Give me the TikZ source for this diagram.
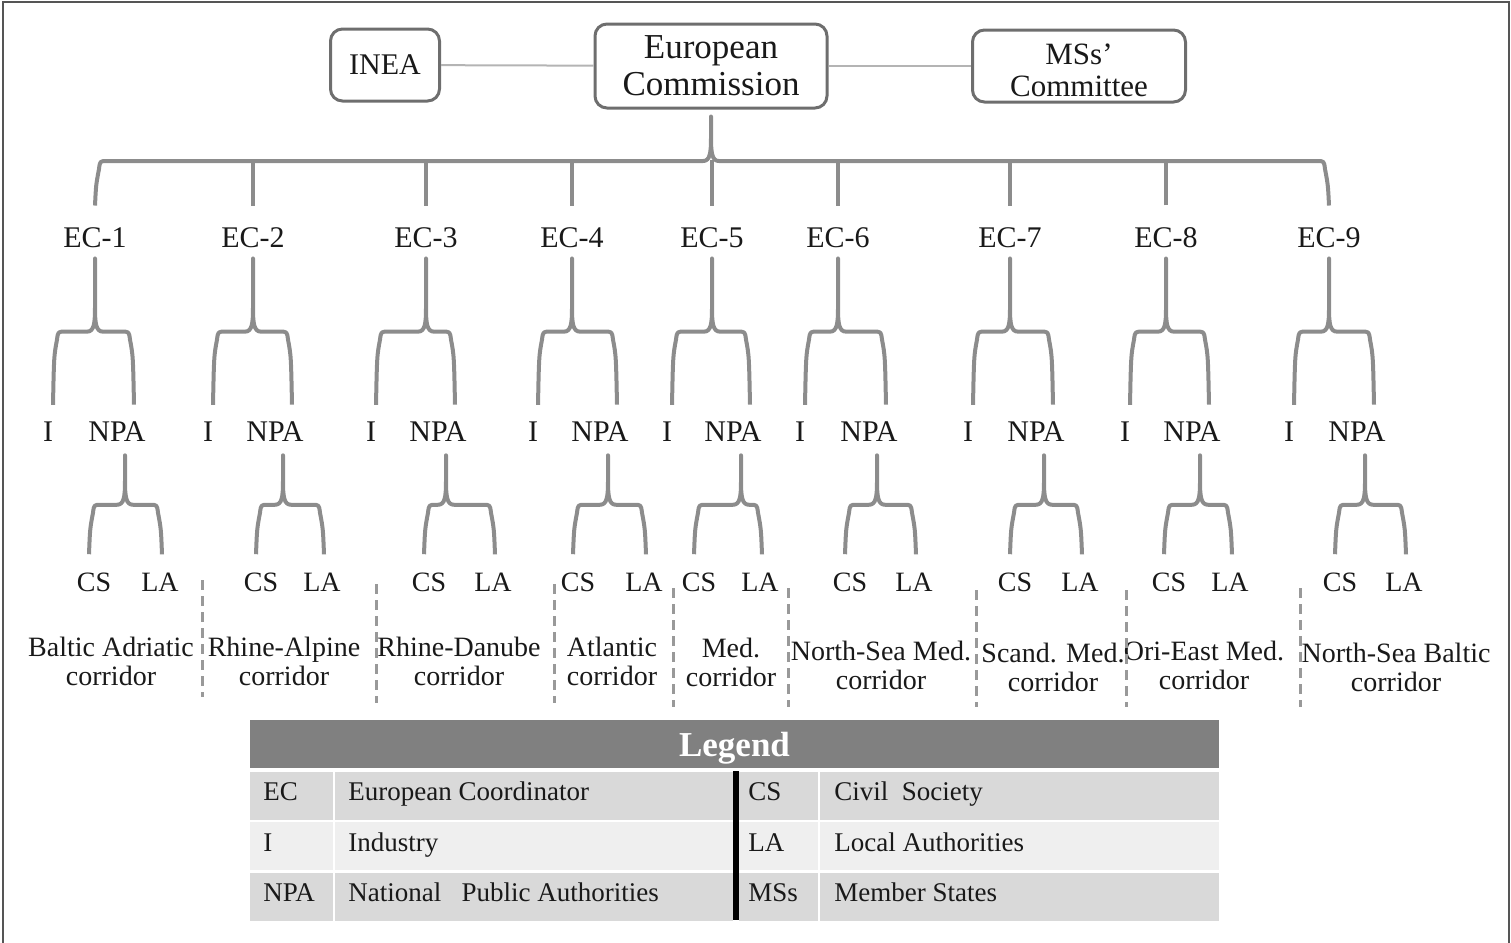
\documentclass[tikz,border=0pt]{standalone}
\usepackage{fontspec}
\setmainfont{Liberation Serif}
\usepackage{tikz}
\usetikzlibrary{calc}
\definecolor{forkgray}{HTML}{8C8C8C}
\definecolor{boxgray}{HTML}{6E6E6E}
\definecolor{linkgray}{HTML}{B4B4B4}
\definecolor{sepgray}{HTML}{999999}
\definecolor{headgray}{HTML}{808080}
\definecolor{rowdark}{HTML}{D9D9D9}
\definecolor{rowlight}{HTML}{EFEFEF}
\definecolor{framegray}{HTML}{555555}

\newcommand\forkbrace[3]{%
  \draw[fork] let \p1=(#1), \p2=(#2), \p3=(#3), \p4=($(\p1)!0.5!(\p2)$) in
    (\x1,\y1) .. controls (\x1+0.5pt,\y4-12pt) .. (\x1+2pt,\y4-4pt)
    .. controls (\x1+2.5pt,\y4) .. (\x1+6pt,\y4)
    -- (\x2-4pt,\y4) .. controls (\x2-0.5pt,\y4) and (\x2,\y4+4pt) .. (\x2,\y4+12pt) -- (\x2,\y2)
    -- (\x2,\y4+12pt) .. controls (\x2,\y4+4pt) and (\x2+0.5pt,\y4) .. (\x2+4pt,\y4)
    -- (\x3-6pt,\y4) .. controls (\x3-2.5pt,\y4) .. (\x3-2pt,\y4-4pt)
    .. controls (\x3-0.5pt,\y4-12pt) .. (\x3,\y3);}

\begin{document}
\begin{tikzpicture}[x=0.5pt,y=-0.5pt]
    \tikzstyle{every node}=[text=black!90]
    \tikzstyle{fork}=[forkgray, line width=2pt, line join=round]
    \tikzstyle{topbox}=[draw=boxgray, line width=1.5pt, rounded corners=6pt, align=center, inner sep=0pt]
    \tikzstyle{link}=[linkgray, line width=1pt]
    \tikzstyle{lab}=[inner sep=0pt, font=\fontsize{15}{17}\selectfont]
    \tikzstyle{small}=[inner sep=0pt, font=\fontsize{14}{15}\selectfont]
    \tikzstyle{corr}=[inner sep=0pt, align=center, font=\fontsize{14}{14.5}\selectfont]
    \tikzstyle{sep}=[sepgray, line width=1.5pt, dash pattern=on 5pt off 3pt]
    \tikzstyle{cell}=[anchor=base west, inner sep=0pt, font=\fontsize{13.5}{15}\selectfont]
      \useasboundingbox (0,0) rectangle (1511,943);
      \draw[framegray, line width=1pt] (2.5,2) rectangle (1508.5,970);
      \node[topbox, minimum width=54.5pt, minimum height=36pt, font=\fontsize{15}{17}\selectfont] (Inea) at (385,65) {INEA};
      \node[topbox, minimum width=116pt, minimum height=42pt, font=\fontsize{17.5}{18.5}\selectfont] (EuCom) at (711,66) {European\\Commission};
      \node[topbox, minimum width=106.5pt, minimum height=36pt, font=\fontsize{15.5}{16}\selectfont] (MSsCom) at (1079,66) {\rule{0pt}{14.5pt}MSs'\\Committee};
      \draw[link] (Inea) -- (EuCom);
      \draw[link] (EuCom) -- (MSsCom);
      \foreach \i/\xe/\xi/\xn/\xc/\xl/\xk/\yk/\txt in {1/95/48/117/94/160/111/661/Baltic Adriatic,
          2/253/208/275/261/322/284/661/Rhine-Alpine, 3/426/371/438/429/493/459/661/Rhine-Danube,
          4/572/533/600/578/644/612/661/Atlantic, 5/712/667/733/699/760/731/662/Med.,
          6/838/800/869/850/914/881/665/North-Sea Med., 7/1010/968/1036/1015/1080/1053/667/Scand. Med.,
          8/1166/1125/1192/1169/1230/1204/665/Ori-East Med., 9/1329/1289/1357/1340/1404/1396/667/North-Sea Baltic}{
        \node[lab] (EC\i) at (\xe,238) {EC-\i};
        \node[lab] (I\i) at (\xi,432) {I};
        \node[lab] (NPA\i) at (\xn,432) {NPA};
        \node[small] (CS\i) at (\xc,582) {CS};
        \node[small] (LA\i) at (\xl,582) {LA};
        \node[corr] (Corr\i) at (\xk,\yk) {\txt\\corridor};
        \forkbrace{[xshift=2.5pt,yshift=8.5pt]I\i.north}{[yshift=-5pt]EC\i.south}{[xshift=8.5pt,yshift=8.5pt]NPA\i.north}
        \forkbrace{[xshift=-2.5pt,yshift=9pt]CS\i.north}{[xshift=4pt,yshift=-6.5pt]NPA\i.south}{[xshift=1pt,yshift=9pt]LA\i.north}
      }
      \forkbrace{[yshift=11pt]EC1.north}{[yshift=-3.5pt]EuCom.south}{[yshift=11pt]EC9.north}
      \coordinate (TopBar) at (712,160);
      \foreach \i in {2,...,8}
        \draw[fork] ([yshift=11pt]EC\i.north) -- (EC\i.north |- TopBar);
      \foreach \x/\ya/\yb in {202/580/697, 376/584/703, 554/584/703, 673/588/707, 788/588/707, 976/590/707, 1126/590/707, 1300/588/707}
        \draw[sep] (\x,\ya) -- (\x,\yb);
      \node[fill=headgray, minimum width=484.5pt, minimum height=24pt, inner sep=0pt, text depth=0pt, text=white, font=\bfseries\fontsize{17.5}{19}\selectfont] (Legend) at (734.5,744) {Legend};
      \foreach \r/\yy/\shade/\ka/\va/\kb/\vb in {1/795.5/rowdark/EC/European Coordinator/CS/Civil\ \ Society,
          2/846/rowlight/I/Industry/LA/Local Authorities, 3/896.5/rowdark/NPA/National\ \ \ Public Authorities/MSs/Member States}{
        \fill[\shade] (250,\yy-24) rectangle (333,\yy+24);
        \fill[\shade] (335,\yy-24) rectangle (733,\yy+24);
        \fill[\shade] (739,\yy-24) rectangle (818,\yy+24);
        \fill[\shade] (820,\yy-24) rectangle (1219,\yy+24);
        \node[cell] (KeyA\r) at (263,\yy+5) {\ka};
        \node[cell] (ValA\r) at (348,\yy+5) {\va};
        \node[cell] (KeyB\r) at (748,\yy+5) {\kb};
        \node[cell] (ValB\r) at (834,\yy+5) {\vb};
      }
      \draw[line width=3pt] (736,771) -- (736,920);
\end{tikzpicture}
\end{document}
